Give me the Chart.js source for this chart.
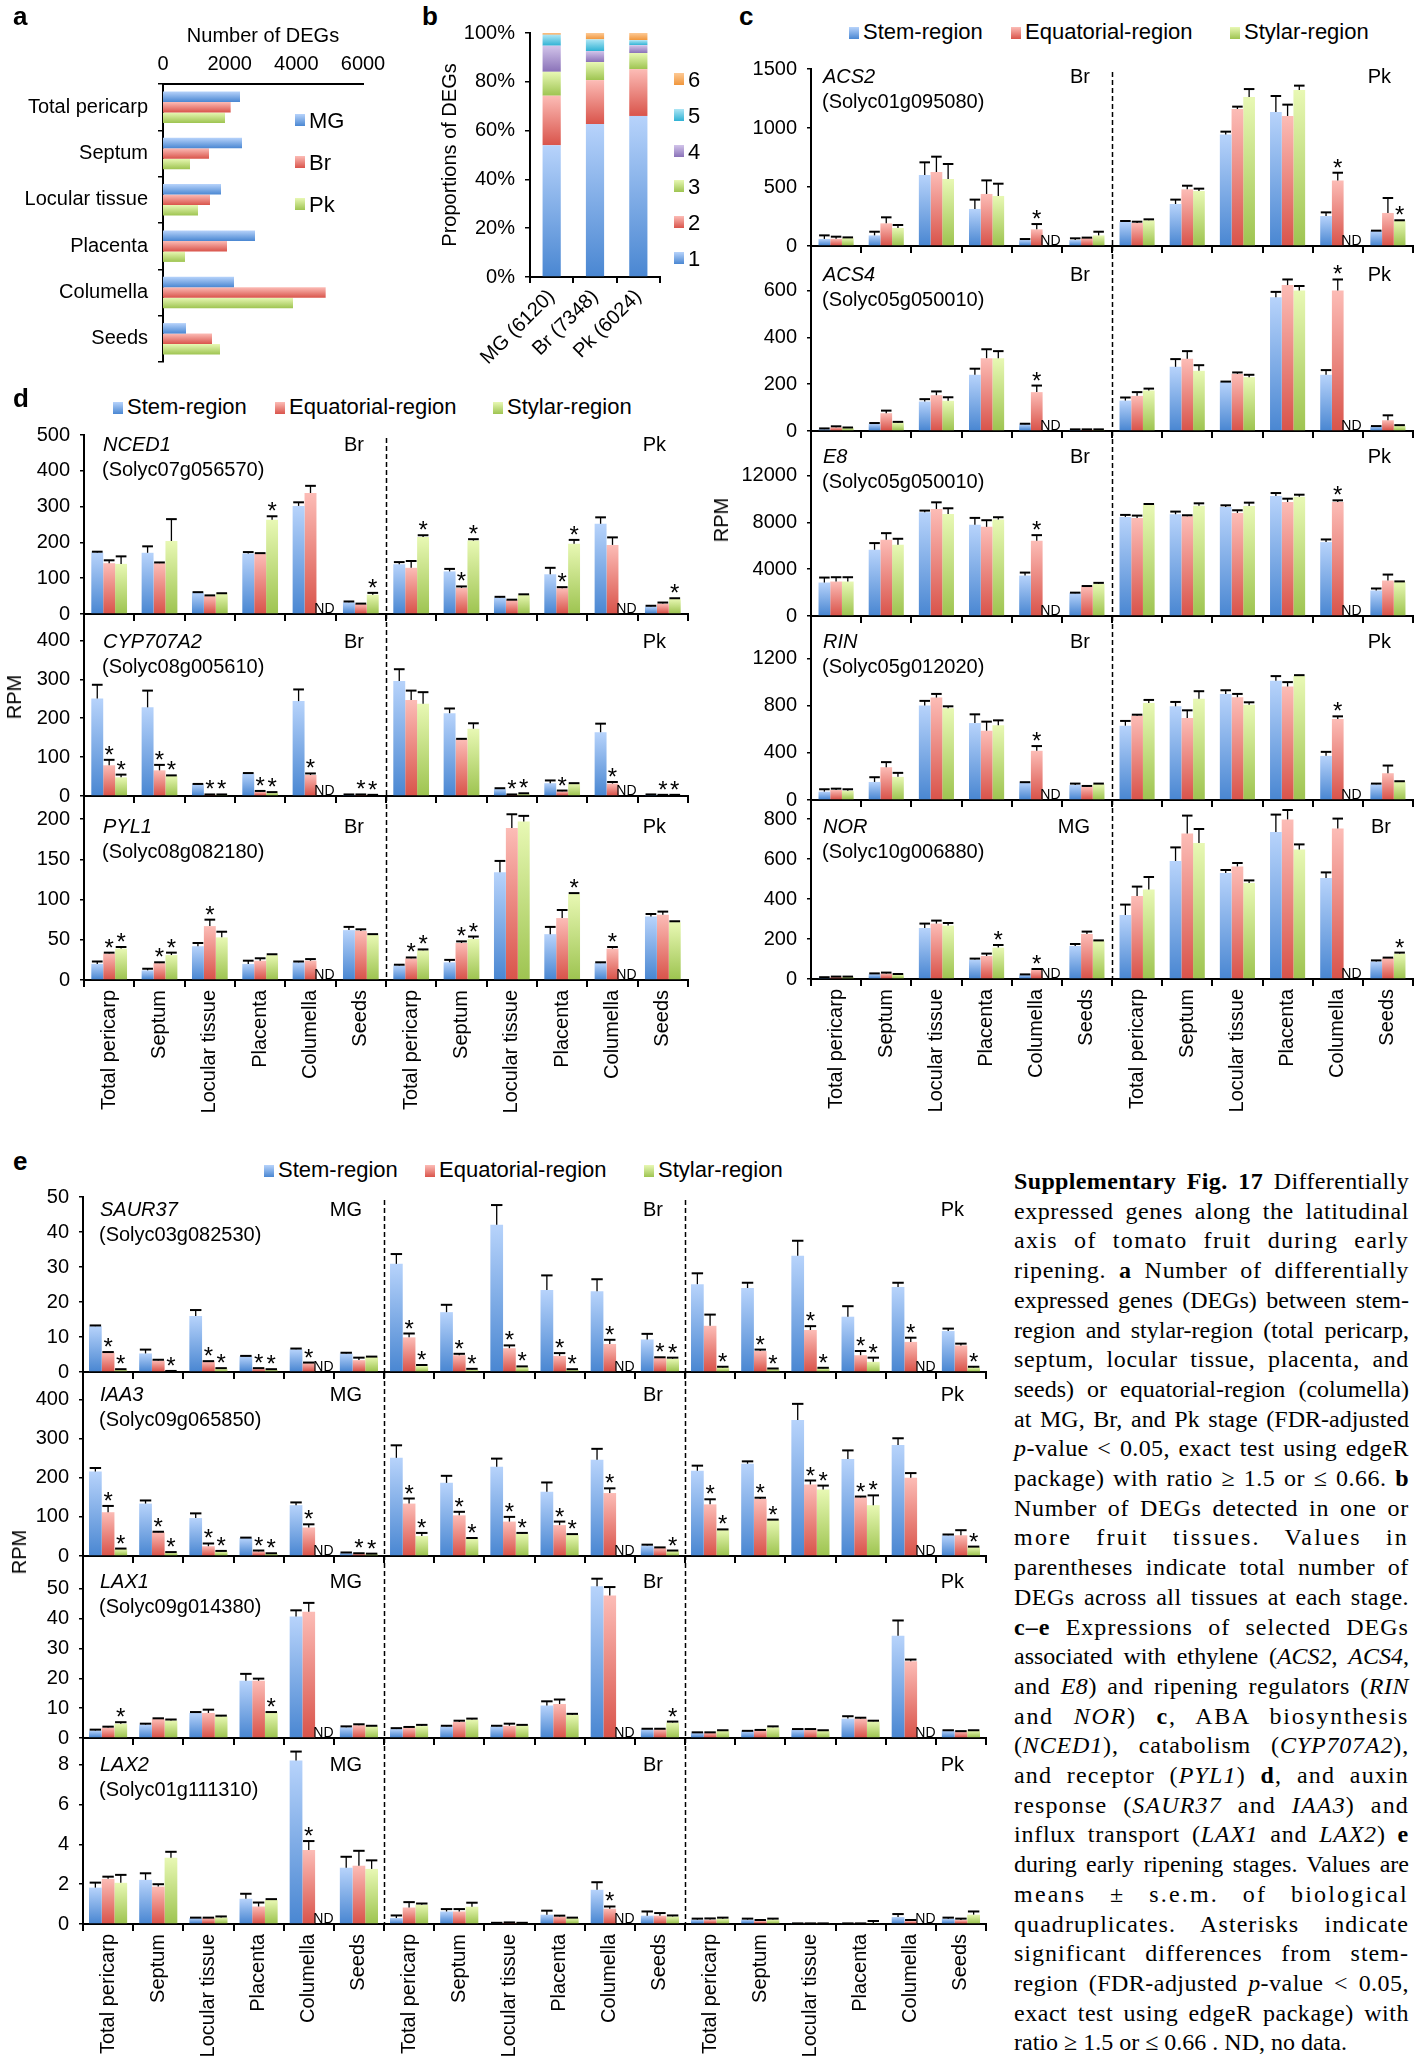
<!DOCTYPE html>
<html>
<head>
<meta charset="utf-8">
<script src="https://cdn.jsdelivr.net/npm/chart.js@4.4.1/dist/chart.umd.min.js"></script>
<style>
html, body { margin: 0; padding: 0; background: #fff; overflow: hidden; }
#page { position: relative; width: 1414px; height: 2065px; background: #fff; color: #000;
  font-family: "Liberation Sans", Arial, Helvetica, sans-serif; }
#page canvas { position: absolute; }
.panel { position: absolute; font-weight: bold; font-size: 26px; line-height: 1; }
.leg { position: absolute; font-size: 22px; line-height: 22px; white-space: nowrap; }
.box { display: inline-block; width: 10px; height: 12px; margin-right: 4px; }
.rpm { position: absolute; font-size: 20px; line-height: 20px; white-space: nowrap;
  transform: translate(-50%, -50%) rotate(-90deg); }
#caption { position: absolute; left: 1014px; top: 1167px; width: 395px;
  font-family: "Liberation Serif", "Times New Roman", serif; font-size: 24px; line-height: 29.7px; }
#caption div { text-align: justify; text-align-last: justify; white-space: nowrap; }
#caption div.last { text-align-last: left; }
</style>
</head>
<body>
<div id="page"></div>
<script>
// ---- data ----
const TISSUES = ['Total pericarp', 'Septum', 'Locular tissue', 'Placenta', 'Columella', 'Seeds'];

// a: number of DEGs per tissue
const A_MG = [2310, 2370, 1740, 2760, 2130, 690];
const A_BR = [2030, 1380, 1410, 1920, 4880, 1470];
const A_PK = [1860, 810, 1050, 660, 3900, 1710];
const A_TICKS = [0, 2000, 4000, 6000];

// b: proportion (%) of DEGs found in 1..6 tissues
const B_STAGES = ['MG (6120)', 'Br (7348)', 'Pk (6024)'];
const B_CLASSES = [
  [54.0, 62.7, 66.0],
  [20.3, 18.0, 19.2],
  [9.8, 7.4, 6.6],
  [10.7, 4.5, 3.2],
  [4.5, 4.8, 2.1],
  [0.7, 2.6, 2.9]
];
const B_TICKS = [0, 20, 40, 60, 80, 100];

// c-e: mean RPM [stem, equatorial, stylar], s.e.m., significant marks [group, series]
const ACS2_MEAN = [
  [60, 90, 602, 314, 51, 51, 206, 356, 944, 1136, 254, 127],
  [62, 192, 627, 441, 141, 68, 195, 480, 1161, 1102, 556, 280],
  [68, 153, 568, 424, null, 90, 218, 466, 1263, 1322, null, 215]];
const ACS2_SEM = [
  [30, 31, 107, 79, 8, 14, 6, 37, 25, 135, 31, 3],
  [17, 51, 130, 115, 45, 3, 11, 31, 20, 96, 65, 127],
  [5, 25, 127, 104, 0, 31, 8, 20, 67, 37, 0, 3]];
const ACS2_SIG = [[4, 1], [10, 1], [11, 2]];
const ACS2_TICKS = [0, 500, 1000, 1500];

const ACS4_MEAN = [
  [8, 31, 126, 240, 29, 6, 130, 274, 209, 571, 240, 20],
  [16, 76, 153, 311, 166, 6, 150, 309, 244, 623, 600, 46],
  [14, 36, 129, 311, null, 6, 173, 257, 230, 600, null, 23]];
const ACS4_SEM = [
  [3, 3, 10, 26, 2, 1, 13, 33, 2, 23, 20, 1],
  [4, 11, 16, 38, 28, 1, 16, 32, 6, 24, 47, 21],
  [1, 3, 15, 30, 0, 1, 8, 24, 10, 19, 0, 2]];
const ACS4_SIG = [[4, 1], [10, 1]];
const ACS4_TICKS = [0, 200, 400, 600];

const E8_MEAN = [
  [2858, 5660, 8858, 7783, 3453, 1953, 8462, 8688, 9311, 10245, 6311, 2179],
  [2943, 6509, 9141, 7613, 6424, 2519, 8377, 8518, 8801, 9735, 9735, 3028],
  [2943, 6085, 8717, 8236, null, 2745, 9509, 9424, 9396, 10188, null, 2915]];
const E8_SEM = [
  [425, 566, 142, 594, 254, 40, 170, 227, 141, 255, 226, 170],
  [368, 566, 566, 566, 481, 40, 198, 85, 227, 283, 142, 510],
  [368, 509, 481, 198, 0, 85, 56, 198, 283, 170, 0, 40]];
const E8_SIG = [[4, 1], [10, 1]];
const E8_TICKS = [0, 4000, 8000, 12000];

const RIN_MEAN = [
  [71, 153, 800, 652, 148, 128, 630, 794, 899, 1010, 374, 133],
  [85, 278, 868, 587, 417, 113, 715, 695, 871, 962, 687, 227],
  [79, 196, 777, 633, null, 136, 823, 857, 808, 1050, null, 156]];
const RIN_SEM = [
  [20, 40, 40, 74, 3, 11, 40, 37, 31, 40, 34, 6],
  [11, 43, 31, 77, 40, 6, 8, 65, 28, 37, 22, 65],
  [12, 34, 17, 42, 0, 3, 25, 65, 20, 8, 0, 3]];
const RIN_SIG = [[4, 1], [10, 1]];
const RIN_TICKS = [0, 400, 800, 1200];

const NOR_MEAN = [
  [7, 25, 255, 97, 22, 165, 320, 590, 530, 735, 505, 88],
  [10, 28, 277, 115, 47, 225, 415, 728, 563, 798, 753, 105],
  [10, 23, 267, 157, null, 192, 447, 680, 480, 648, null, 127]];
const NOR_SEM = [
  [2, 3, 22, 5, 1, 10, 52, 68, 15, 87, 28, 5],
  [2, 4, 15, 12, 3, 12, 47, 89, 17, 47, 49, 2],
  [2, 2, 13, 13, 0, 1, 63, 70, 13, 25, 0, 5]];
const NOR_SIG = [[3, 2], [4, 1], [11, 2]];
const NOR_TICKS = [0, 200, 400, 600, 800];

const NCED1_MEAN = [
  [172, 171, 60, 169, 302, 33, 139, 119, 46, 111, 252, 21],
  [142, 142, 50, 168, 338, 28, 129, 73, 39, 72, 193, 29],
  [140, 204, 57, 263, null, 54, 215, 205, 54, 196, null, 42]];
const NCED1_SEM = [
  [2, 18, 1, 4, 10, 2, 6, 7, 2, 18, 18, 2],
  [8, 2, 2, 2, 20, 1, 19, 4, 1, 3, 21, 3],
  [21, 61, 1, 10, 0, 5, 5, 4, 1, 11, 0, 2]];
const NCED1_SIG = [[3, 2], [5, 2], [6, 2], [7, 1], [7, 2], [9, 1], [9, 2], [11, 2]];
const NCED1_TICKS = [0, 100, 200, 300, 400, 500];

const CYP707A2_MEAN = [
  [251, 228, 30, 58, 244, 3, 296, 213, 18, 33, 164, 3],
  [79, 66, 3, 11, 54, 3, 247, 146, 3, 12, 32, 2],
  [48, 52, 3, 9, null, 2, 237, 173, 6, 32, null, 2]];
const CYP707A2_SEM = [
  [35, 43, 1, 1, 30, 1, 30, 12, 2, 7, 22, 1],
  [14, 14, 1, 2, 4, 1, 24, 1, 1, 2, 4, 1],
  [7, 1, 1, 1, 0, 1, 30, 14, 1, 1, 0, 1]];
const CYP707A2_SIG = [[0, 1], [0, 2], [1, 1], [1, 2], [2, 1], [2, 2], [3, 1], [3, 2], [4, 1], [5, 1], [5, 2],
  [8, 1], [8, 2], [9, 1], [10, 1], [11, 1], [11, 2]];
const CYP707A2_TICKS = [0, 100, 200, 300, 400];

const PYL1_MEAN = [
  [20, 12, 42, 20, 22, 62, 18, 22, 134, 57, 21, 79],
  [33, 21, 67, 24, 24, 61, 27, 46, 189, 77, 39, 81],
  [39, 31, 53, 31, null, 56, 37, 51, 197, 107, null, 72]];
const PYL1_SEM = [
  [3, 2, 4, 4, 1, 4, 1, 3, 14, 9, 1, 3],
  [1, 1, 8, 3, 2, 2, 1, 2, 17, 10, 2, 4],
  [2, 3, 7, 1, 0, 1, 1, 3, 7, 1, 0, 1]];
const PYL1_SIG = [[0, 1], [0, 2], [1, 1], [1, 2], [2, 1], [6, 1], [6, 2], [7, 1], [7, 2], [9, 2], [10, 1]];
const PYL1_TICKS = [0, 50, 100, 150, 200];

const SAUR37_MEAN = [
  [13.1, 5.3, 16.0, 4.5, 6.5, 5.3, 30.9, 17.1, 42.1, 23.4, 23.1, 9.3, 25.1, 24.0, 33.2, 15.8, 24.3, 11.7],
  [5.6, 3.3, 3.0, 1.0, 2.6, 3.4, 9.9, 4.8, 6.8, 4.6, 8.0, 4.0, 13.2, 6.0, 12.0, 4.8, 8.6, 7.6],
  [0.7, 0.2, 1.0, 0.7, null, 4.3, 1.7, 0.7, 1.4, 0.7, null, 3.8, 1.3, 0.9, 1.1, 2.9, null, 1.3]];
const SAUR37_SEM = [
  [0.2, 1.1, 1.7, 0.1, 0.2, 0.2, 2.8, 2.1, 5.6, 4.2, 3.4, 1.6, 3.1, 1.5, 4.3, 3.0, 1.2, 0.7],
  [0.1, 0.2, 0.1, 0.1, 0.1, 0.7, 1.1, 0.4, 0.8, 0.8, 1.2, 0.2, 3.2, 0.4, 1.1, 1.2, 1.2, 0.5],
  [0.1, 0.1, 0.1, 0.1, 0, 0.1, 0.3, 0.2, 0.2, 0.1, 0, 0.3, 0.2, 0.1, 0.1, 1.2, 0, 0.2]];
const SAUR37_SIG = [[0, 1], [0, 2], [1, 2], [2, 1], [2, 2], [3, 1], [3, 2], [4, 1],
  [6, 1], [6, 2], [7, 1], [7, 2], [8, 1], [8, 2], [9, 1], [9, 2], [10, 1], [11, 1], [11, 2],
  [12, 2], [13, 1], [13, 2], [14, 1], [14, 2], [15, 1], [15, 2], [16, 1], [17, 2]];
const SAUR37_TICKS = [0, 10, 20, 30, 40, 50];

const IAA3_MEAN = [
  [216, 134, 97, 46, 130, 8, 251, 187, 228, 164, 246, 27, 218, 236, 348, 248, 284, 53],
  [112, 61, 25, 12, 73, 6, 134, 104, 88, 79, 161, 21, 132, 146, 183, 150, 200, 53],
  [18, 9, 12, 6, null, 5, 51, 45, 57, 54, null, 13, 67, 92, 170, 130, null, 23]];
const IAA3_SEM = [
  [9, 8, 12, 1, 7, 1, 32, 18, 21, 24, 28, 2, 13, 6, 41, 22, 17, 2],
  [16, 1, 7, 2, 8, 1, 13, 9, 12, 9, 12, 1, 13, 3, 10, 2, 12, 13],
  [1, 1, 1, 1, 0, 1, 8, 1, 2, 2, 0, 1, 1, 1, 10, 25, 0, 1]];
const IAA3_SIG = [[0, 1], [0, 2], [1, 1], [1, 2], [2, 1], [2, 2], [3, 1], [3, 2], [4, 1], [5, 1], [5, 2],
  [6, 1], [6, 2], [7, 1], [7, 2], [8, 1], [8, 2], [9, 1], [9, 2], [10, 1], [11, 2],
  [12, 1], [12, 2], [13, 1], [13, 2], [14, 1], [14, 2], [15, 1], [15, 2], [17, 2]];
const IAA3_TICKS = [0, 100, 200, 300, 400];

const LAX1_MEAN = [
  [2.5, 4.5, 8.4, 19.2, 40.7, 3.6, 3.0, 3.9, 3.9, 10.9, 50.9, 3.0, 1.8, 2.3, 2.9, 6.5, 34.3, 2.5],
  [3.5, 6.4, 8.4, 19.2, 42.3, 4.3, 3.4, 5.4, 4.1, 11.4, 47.8, 3.0, 1.8, 2.6, 2.9, 6.5, 25.7, 2.2],
  [4.8, 5.9, 7.3, 8.6, null, 4.0, 4.0, 6.2, 4.3, 7.8, null, 5.2, 2.5, 3.6, 2.5, 5.6, null, 2.5]];
const LAX1_SEM = [
  [0.3, 0.3, 0.3, 2.3, 2.1, 0.3, 0.3, 0.2, 0.2, 1.4, 2.5, 0.1, 0.1, 0.1, 0.1, 0.8, 5.1, 0.1],
  [0.3, 0.2, 1.1, 0.7, 3.0, 0.3, 0.3, 0.4, 0.7, 1.5, 2.8, 0.1, 0.1, 0.1, 0.1, 0.3, 0.6, 0.1],
  [0.5, 0.3, 0.2, 0.1, 0, 0.1, 0.4, 0.3, 0.1, 0.3, 0, 0.3, 0.1, 0.3, 0.1, 0.2, 0, 0.1]];
const LAX1_SIG = [[0, 2], [3, 2], [11, 2]];
const LAX1_TICKS = [0, 10, 20, 30, 40, 50];

const LAX2_MEAN = [
  [1.83, 2.22, 0.30, 1.27, 8.22, 2.83, 0.30, 0.63, 0.05, 0.47, 1.72, 0.42, 0.22, 0.22, 0.02, 0.02, 0.35, 0.27],
  [2.27, 1.88, 0.30, 0.88, 3.72, 2.93, 0.83, 0.63, 0.07, 0.38, 0.77, 0.42, 0.22, 0.15, 0.02, 0.02, 0.15, 0.20],
  [2.07, 3.33, 0.33, 1.22, null, 2.77, 0.97, 0.87, 0.05, 0.30, null, 0.38, 0.27, 0.22, 0.02, 0.03, null, 0.47]];
const LAX2_SEM = [
  [0.25, 0.33, 0.02, 0.25, 0.45, 0.55, 0.13, 0.12, 0.01, 0.20, 0.38, 0.21, 0.05, 0.05, 0.01, 0.01, 0.15, 0.05],
  [0.11, 0.12, 0.02, 0.20, 0.45, 0.75, 0.27, 0.12, 0.01, 0.04, 0.11, 0.13, 0.06, 0.05, 0.01, 0.01, 0.05, 0.07],
  [0.40, 0.30, 0.05, 0.03, 0, 0.43, 0.06, 0.20, 0.01, 0.02, 0, 0.05, 0.05, 0.05, 0.01, 0.12, 0, 0.16]];
const LAX2_SIG = [[4, 1], [10, 1]];
const LAX2_TICKS = [0, 2, 4, 6, 8];

// ---- styling ----
const FONT = '"Liberation Sans", Arial, Helvetica, sans-serif';
Chart.defaults.font.family = FONT;
Chart.defaults.font.size = 20;
Chart.defaults.color = '#000';
Chart.defaults.animation = false;

const SHADE_BLUE = ['#b7d3fb', '#4a87d2'];
const SHADE_RED = ['#fcbcb6', '#d9544b'];
const SHADE_GREEN = ['#e8f8b4', '#9ec451'];
const SHADE_PURPLE = ['#d2c4ea', '#8a72b8'];
const SHADE_CYAN = ['#aee6f5', '#2fb2d4'];
const SHADE_ORANGE = ['#fdc994', '#f0963c'];
const REGIONS = [
  { name: 'Stem-region', shade: SHADE_BLUE },
  { name: 'Equatorial-region', shade: SHADE_RED },
  { name: 'Stylar-region', shade: SHADE_GREEN }
];

const page = document.getElementById('page');

// each bar gets its own top-to-bottom gradient
const gradientBars = {
  id: 'gradientBars',
  beforeDatasetsDraw(chart) {
    const ctx = chart.ctx;
    chart.data.datasets.forEach((ds, di) => {
      if (!ds.shade) return;
      chart.getDatasetMeta(di).data.forEach(el => {
        const p = el.getProps(['x', 'y', 'base', 'height', 'horizontal']);
        let y0, y1;
        if (p.horizontal) { y0 = p.y - p.height / 2; y1 = p.y + p.height / 2; }
        else { y0 = Math.min(p.y, p.base); y1 = Math.max(p.y, p.base); }
        if (!isFinite(y0) || !isFinite(y1) || y1 - y0 < 0.5) return;
        const g = ctx.createLinearGradient(0, y0, 0, y1);
        g.addColorStop(0, ds.shade[0]);
        g.addColorStop(1, ds.shade[1]);
        el.options = Object.assign({}, el.options, { backgroundColor: g });
      });
    });
  }
};

// error bars, asterisks, ND, stage dividers and gene captions
const geneDecor = {
  id: 'geneDecor',
  afterDatasetsDraw(chart, args, o) {
    if (!o.sem) return;
    const { ctx, chartArea } = chart;
    const xs = chart.scales.x, ys = chart.scales.y;
    ctx.save();
    // stage dividers
    ctx.strokeStyle = '#000';
    ctx.lineWidth = 1.5;
    ctx.setLineDash([5, 3]);
    for (let k = 1; k < o.stages.length; k++) {
      const px = Math.round(xs.getPixelForValue(6 * k - 0.5)) + 0.5;
      ctx.beginPath();
      ctx.moveTo(px, o.divTop);
      ctx.lineTo(px, chartArea.bottom);
      ctx.stroke();
    }
    ctx.setLineDash([]);
    chart.data.datasets.forEach((ds, di) => {
      chart.getDatasetMeta(di).data.forEach((el, i) => {
        const v = ds.data[i];
        if (v == null) {
          ctx.font = '14px ' + FONT;
          ctx.textAlign = 'center';
          ctx.textBaseline = 'alphabetic';
          ctx.fillStyle = '#000';
          ctx.fillText('ND', el.x + 2, chartArea.bottom - 1);
          return;
        }
        const top = ys.getPixelForValue(v + o.sem[di][i]);
        const half = Math.max(el.width * 0.45, 3);
        ctx.strokeStyle = '#000';
        ctx.lineWidth = 1.3;
        ctx.beginPath();
        ctx.moveTo(el.x, el.y);
        ctx.lineTo(el.x, top);
        ctx.stroke();
        ctx.lineWidth = 2;
        ctx.beginPath();
        ctx.moveTo(el.x - half, top);
        ctx.lineTo(el.x + half, top);
        ctx.stroke();
      });
    });
    ctx.font = '24px ' + FONT;
    ctx.textAlign = 'center';
    ctx.textBaseline = 'alphabetic';
    ctx.fillStyle = '#000';
    o.sig.forEach(([g, s]) => {
      const el = chart.getDatasetMeta(s).data[g];
      const v = chart.data.datasets[s].data[g];
      const top = ys.getPixelForValue(v + o.sem[s][g]);
      ctx.fillText('*', el.x, top + 3);
    });
    // gene name, locus and stage labels
    const ny = chartArea.top + o.nameDy;
    ctx.textBaseline = 'middle';
    ctx.textAlign = 'left';
    ctx.font = 'italic 20px ' + FONT;
    ctx.fillText(o.name, chartArea.left + o.nameDx, ny);
    ctx.font = '20px ' + FONT;
    ctx.fillText(o.locus, chartArea.left + o.nameDx - 1, ny + 25);
    ctx.textAlign = 'right';
    o.stages.forEach((s, k) => {
      ctx.fillText(s, xs.getPixelForValue(6 * k + 5.5) - 22, ny);
    });
    ctx.restore();
  }
};

function addCanvas(left, top, w, h) {
  const cv = document.createElement('canvas');
  cv.width = w; cv.height = h;
  cv.style.left = left + 'px'; cv.style.top = top + 'px';
  cv.style.width = w + 'px'; cv.style.height = h + 'px';
  page.appendChild(cv);
  return cv;
}

// fixed axis box sizes so the plot area lands exactly where wanted
function fixBox(size, isWidth) {
  return s => {
    if (isWidth) s.width = size; else s.height = size;
    s.paddingTop = 0; s.paddingBottom = 0; s.paddingLeft = 0; s.paddingRight = 0;
  };
}

function geneChart(o) {
  const GUT = 80;
  const n = o.mean[0].length;
  const labels = [];
  for (let k = 0; k < n / 6; k++) labels.push(...TISSUES);
  const w = GUT + (o.right - o.left) + 2;
  const h = o.padTop + (o.bottom - o.top) + o.gutter;
  const cv = addCanvas(o.left - GUT, o.top - o.padTop, w, h);
  new Chart(cv, {
    type: 'bar',
    data: {
      labels: labels,
      datasets: REGIONS.map((r, i) => ({
        label: r.name, data: o.mean[i], backgroundColor: r.shade[1], shade: r.shade,
        categoryPercentage: o.cat, barPercentage: 1
      }))
    },
    options: {
      responsive: false,
      devicePixelRatio: 1,
      animation: false,
      layout: { padding: { left: 0, right: 2, top: o.padTop, bottom: 0 } },
      plugins: {
        legend: { display: false },
        tooltip: { enabled: false },
        geneDecor: {
          sem: o.sem, sig: o.sig, stages: o.stages, name: o.name, locus: o.locus,
          nameDx: o.nameDx, nameDy: o.nameDy, divTop: o.divTop
        }
      },
      scales: {
        x: {
          offset: true,
          grid: { offset: true, drawOnChartArea: false, color: '#000', lineWidth: 2, tickLength: 7 },
          border: { color: '#000', width: 2 },
          ticks: { display: o.showLabels, autoSkip: false, minRotation: 90, maxRotation: 90, padding: 3 },
          afterFit: fixBox(o.gutter, false)
        },
        y: {
          min: 0, max: o.max,
          afterBuildTicks: s => { s.ticks = o.ticks.map(v => ({ value: v })); },
          grid: { drawOnChartArea: false, color: '#000', lineWidth: 1.5, tickLength: 4 },
          border: { color: '#000', width: 2 },
          ticks: { padding: 10, callback: v => String(v) },
          afterFit: fixBox(GUT, true)
        }
      }
    },
    plugins: [gradientBars, geneDecor]
  });
}

function addDiv(cls, left, top, html) {
  const d = document.createElement('div');
  d.className = cls;
  d.style.left = left + 'px';
  d.style.top = top + 'px';
  d.innerHTML = html;
  page.appendChild(d);
  return d;
}
function boxHtml(shade, va) {
  return '<span class="box" style="vertical-align:' + (va || 0) + 'px;background:linear-gradient(' +
    shade[0] + ',' + shade[1] + ')"></span>';
}

// ---- panel a ----
const cvA = addCanvas(0, 0, 400, 370);
new Chart(cvA, {
  type: 'bar',
  data: {
    labels: TISSUES,
    datasets: [
      { label: 'MG', data: A_MG, backgroundColor: SHADE_BLUE[1], shade: SHADE_BLUE },
      { label: 'Br', data: A_BR, backgroundColor: SHADE_RED[1], shade: SHADE_RED },
      { label: 'Pk', data: A_PK, backgroundColor: SHADE_GREEN[1], shade: SHADE_GREEN }
    ].map(d => Object.assign(d, { categoryPercentage: 0.68, barPercentage: 1 }))
  },
  options: {
    indexAxis: 'y',
    responsive: false,
    devicePixelRatio: 1,
    layout: { padding: { top: 24, right: 37, bottom: 8, left: 0 } },
    plugins: { legend: { display: false }, tooltip: { enabled: false } },
    scales: {
      x: {
        position: 'top', min: 0, max: 6000,
        afterBuildTicks: s => { s.ticks = A_TICKS.map(v => ({ value: v })); },
        title: { display: true, text: 'Number of DEGs', padding: 0 },
        ticks: { padding: 8, callback: v => String(v) },
        grid: { display: false, drawTicks: false },
        border: { display: true, color: '#000', width: 2 },
        afterFit: fixBox(60, false)
      },
      y: {
        offset: true,
        grid: { offset: true, drawOnChartArea: false, color: '#000', lineWidth: 1.5, tickLength: 5 },
        border: { color: '#000', width: 2 },
        ticks: { padding: 10 },
        afterFit: fixBox(163, true)
      }
    }
  },
  plugins: [gradientBars]
});
[['MG', SHADE_BLUE, 121], ['Br', SHADE_RED, 163], ['Pk', SHADE_GREEN, 205]].forEach(([t, sh, cy]) => {
  addDiv('leg', 295, cy - 11, boxHtml(sh, 2) + t);
});

// ---- panel b ----
const B_SHADES = [SHADE_BLUE, SHADE_RED, SHADE_GREEN, SHADE_PURPLE, SHADE_CYAN, SHADE_ORANGE];
const cvB = addCanvas(438, 0, 240, 380);
new Chart(cvB, {
  type: 'bar',
  data: {
    labels: B_STAGES,
    datasets: B_CLASSES.map((vals, k) => ({
      label: String(k + 1), data: vals, backgroundColor: B_SHADES[k][1], shade: B_SHADES[k],
      categoryPercentage: 0.6, barPercentage: 0.7
    }))
  },
  options: {
    responsive: false,
    devicePixelRatio: 1,
    layout: { padding: { top: 33, right: 18, bottom: 0, left: 0 } },
    plugins: { legend: { display: false }, tooltip: { enabled: false } },
    scales: {
      x: {
        stacked: true, offset: true,
        grid: { offset: true, drawOnChartArea: false, color: '#000', lineWidth: 2, tickLength: 6 },
        border: { color: '#000', width: 2 },
        ticks: { autoSkip: false, minRotation: 45, maxRotation: 45, padding: 2 },
        afterFit: fixBox(103, false)
      },
      y: {
        stacked: true, min: 0, max: 100,
        afterBuildTicks: s => { s.ticks = B_TICKS.map(v => ({ value: v })); },
        title: { display: true, text: 'Proportions of DEGs', padding: 0 },
        grid: { drawOnChartArea: false, color: '#000', lineWidth: 1.5, tickLength: 5 },
        border: { color: '#000', width: 2 },
        ticks: { padding: 10, callback: v => v + '%' },
        afterFit: fixBox(92, true)
      }
    }
  },
  plugins: [gradientBars]
});
for (let k = 5; k >= 0; k--) {
  const cy = 80 + (5 - k) * 35.8;
  addDiv('leg', 674, cy - 11, boxHtml(B_SHADES[k], 2) + String(k + 1));
}

// ---- panel c ----
const C = { left: 811, right: 1413, cat: 0.7, nameDx: 12 };
geneChart(Object.assign({}, C, { top: 69, bottom: 246, padTop: 14, gutter: 9, divTop: 17, showLabels: false,
  max: 1500, ticks: ACS2_TICKS, mean: ACS2_MEAN, sem: ACS2_SEM, sig: ACS2_SIG,
  name: 'ACS2', locus: '(Solyc01g095080)', stages: ['Br', 'Pk'], nameDy: 8 }));
geneChart(Object.assign({}, C, { top: 253, bottom: 431, padTop: 7, gutter: 9, divTop: 0, showLabels: false,
  max: 760, ticks: ACS4_TICKS, mean: ACS4_MEAN, sem: ACS4_SEM, sig: ACS4_SIG,
  name: 'ACS4', locus: '(Solyc05g050010)', stages: ['Br', 'Pk'], nameDy: 22 }));
geneChart(Object.assign({}, C, { top: 438, bottom: 616, padTop: 7, gutter: 9, divTop: 0, showLabels: false,
  max: 15200, ticks: E8_TICKS, mean: E8_MEAN, sem: E8_SEM, sig: E8_SIG,
  name: 'E8', locus: '(Solyc05g050010)', stages: ['Br', 'Pk'], nameDy: 19 }));
geneChart(Object.assign({}, C, { top: 623, bottom: 800, padTop: 7, gutter: 9, divTop: 0, showLabels: false,
  max: 1500, ticks: RIN_TICKS, mean: RIN_MEAN, sem: RIN_SEM, sig: RIN_SIG,
  name: 'RIN', locus: '(Solyc05g012020)', stages: ['Br', 'Pk'], nameDy: 19 }));
geneChart(Object.assign({}, C, { top: 807, bottom: 979, padTop: 7, gutter: 150, divTop: 0, showLabels: true,
  max: 860, ticks: NOR_TICKS, mean: NOR_MEAN, sem: NOR_SEM, sig: NOR_SIG,
  name: 'NOR', locus: '(Solyc10g006880)', stages: ['MG', 'Br'], nameDy: 20 }));

// ---- panel d ----
const D = { left: 84, right: 688, cat: 0.71, nameDx: 19 };
geneChart(Object.assign({}, D, { top: 435, bottom: 614, padTop: 14, gutter: 9, divTop: 17, showLabels: false,
  max: 500, ticks: NCED1_TICKS, mean: NCED1_MEAN, sem: NCED1_SEM, sig: NCED1_SIG,
  name: 'NCED1', locus: '(Solyc07g056570)', stages: ['Br', 'Pk'], nameDy: 10 }));
geneChart(Object.assign({}, D, { top: 621, bottom: 796, padTop: 7, gutter: 9, divTop: 0, showLabels: false,
  max: 450, ticks: CYP707A2_TICKS, mean: CYP707A2_MEAN, sem: CYP707A2_SEM, sig: CYP707A2_SIG,
  name: 'CYP707A2', locus: '(Solyc08g005610)', stages: ['Br', 'Pk'], nameDy: 21 }));
geneChart(Object.assign({}, D, { top: 803, bottom: 980, padTop: 7, gutter: 150, divTop: 0, showLabels: true,
  max: 220, ticks: PYL1_TICKS, mean: PYL1_MEAN, sem: PYL1_SEM, sig: PYL1_SIG,
  name: 'PYL1', locus: '(Solyc08g082180)', stages: ['Br', 'Pk'], nameDy: 24 }));

// ---- panel e ----
const E = { left: 82.5, right: 985.5, cat: 0.76, nameDx: 17 };
geneChart(Object.assign({}, E, { top: 1197, bottom: 1372, padTop: 14, gutter: 9, divTop: 17, showLabels: false,
  max: 50, ticks: SAUR37_TICKS, mean: SAUR37_MEAN, sem: SAUR37_SEM, sig: SAUR37_SIG,
  name: 'SAUR37', locus: '(Solyc03g082530)', stages: ['MG', 'Br', 'Pk'], nameDy: 13 }));
geneChart(Object.assign({}, E, { top: 1380, bottom: 1556, padTop: 7, gutter: 9, divTop: 0, showLabels: false,
  max: 450, ticks: IAA3_TICKS, mean: IAA3_MEAN, sem: IAA3_SEM, sig: IAA3_SIG,
  name: 'IAA3', locus: '(Solyc09g065850)', stages: ['MG', 'Br', 'Pk'], nameDy: 15 }));
geneChart(Object.assign({}, E, { top: 1562, bottom: 1738, padTop: 7, gutter: 9, divTop: 0, showLabels: false,
  max: 59, ticks: LAX1_TICKS, mean: LAX1_MEAN, sem: LAX1_SEM, sig: LAX1_SIG,
  name: 'LAX1', locus: '(Solyc09g014380)', stages: ['MG', 'Br', 'Pk'], nameDy: 20 }));
geneChart(Object.assign({}, E, { top: 1745, bottom: 1924, padTop: 7, gutter: 141, divTop: 0, showLabels: true,
  max: 9, ticks: LAX2_TICKS, mean: LAX2_MEAN, sem: LAX2_SEM, sig: LAX2_SIG,
  name: 'LAX2', locus: '(Solyc01g111310)', stages: ['MG', 'Br', 'Pk'], nameDy: 20 }));

// ---- panel letters, legends, axis titles ----
addDiv('panel', 13, 3, 'a');
addDiv('panel', 422, 3, 'b');
addDiv('panel', 739, 3, 'c');
addDiv('panel', 13, 385, 'd');
addDiv('panel', 13, 1148, 'e');

[[32, [849, 1011, 1230]], [407, [113, 275, 493]], [1170, [264, 425, 644]]].forEach(([cy, xs]) => {
  REGIONS.forEach((r, i) => addDiv('leg', xs[i], cy - 11, boxHtml(r.shade) + r.name));
});

[[721, 520], [14, 697], [19, 1552]].forEach(([x, y]) => addDiv('rpm', x, y, 'RPM'));

// ---- caption ----
const CAPTION = [
  '<b>Supplementary Fig. 17</b> Differentially',
  'expressed genes along the latitudinal',
  'axis of tomato fruit during early',
  'ripening. <b>a</b> Number of differentially',
  'expressed genes (DEGs) between stem-',
  'region and stylar-region (total pericarp,',
  'septum, locular tissue, placenta, and',
  'seeds) or equatorial-region (columella)',
  'at MG, Br, and Pk stage (FDR-adjusted',
  '<i>p</i>-value &lt; 0.05, exact test using edgeR',
  'package) with ratio ≥ 1.5 or ≤ 0.66. <b>b</b>',
  'Number of DEGs detected in one or',
  'more fruit tissues. Values in',
  'parentheses indicate total number of',
  'DEGs across all tissues at each stage.',
  '<b>c–e</b> Expressions of selected DEGs',
  'associated with ethylene (<i>ACS2</i>, <i>ACS4</i>,',
  'and <i>E8</i>) and ripening regulators (<i>RIN</i>',
  'and <i>NOR</i>) <b>c</b>, ABA biosynthesis',
  '(<i>NCED1</i>), catabolism (<i>CYP707A2</i>),',
  'and receptor (<i>PYL1</i>) <b>d</b>, and auxin',
  'response (<i>SAUR37</i> and <i>IAA3</i>) and',
  'influx transport (<i>LAX1</i> and <i>LAX2</i>) <b>e</b>',
  'during early ripening stages. Values are',
  'means ± s.e.m. of biological',
  'quadruplicates. Asterisks indicate',
  'significant differences from stem-',
  'region (FDR-adjusted <i>p</i>-value &lt; 0.05,',
  'exact test using edgeR package) with',
  'ratio ≥ 1.5 or ≤ 0.66 . ND, no data.'
];
const cap = document.createElement('div');
cap.id = 'caption';
cap.innerHTML = CAPTION.map((l, i) =>
  '<div' + (i === CAPTION.length - 1 ? ' class="last"' : '') + '>' + l + '</div>').join('');
page.appendChild(cap);
// loose lines are spread partly by letter spacing, as in the typeset original
cap.querySelectorAll('div').forEach((d, i, all) => {
  if (i === all.length - 1) return;
  d.style.textAlignLast = 'left';
  const r = document.createRange();
  r.selectNodeContents(d);
  const natural = r.getBoundingClientRect().width;
  d.style.textAlignLast = '';
  const slack = 395 - natural;
  const chars = d.textContent.length;
  if (slack > 25 && chars > 1) d.style.letterSpacing = (slack * 0.5 / chars).toFixed(2) + 'px';
});
</script>
</body>
</html>
